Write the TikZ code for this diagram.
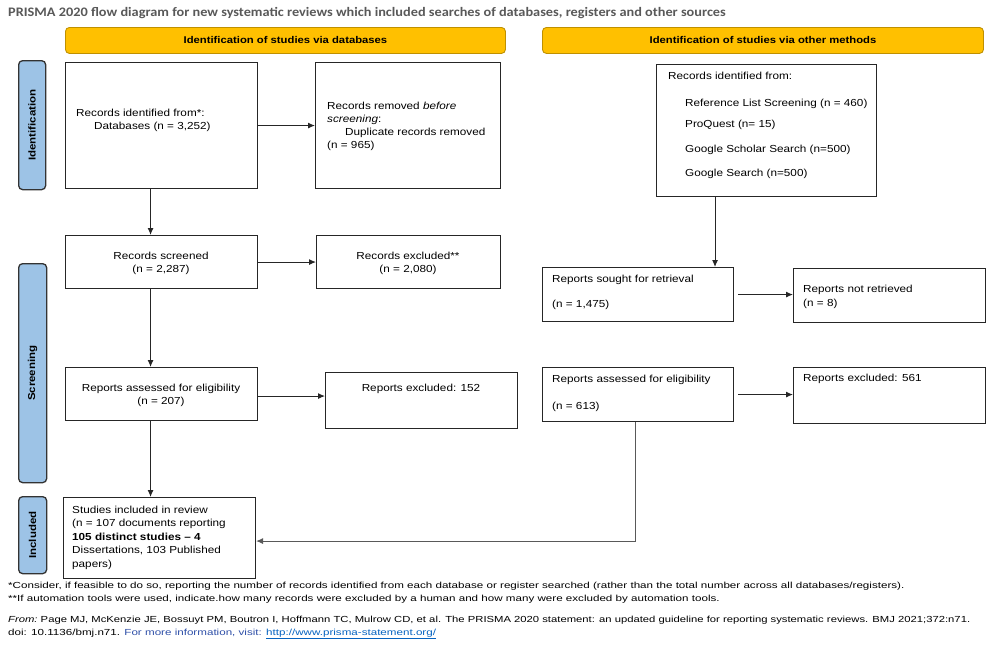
\documentclass[tikz,border=0pt]{standalone}
\usepackage{fontspec}
\setmainfont{Liberation Sans}
\usetikzlibrary{arrows.meta}
\newfontfamily\boxfont[FakeStretch=1.15]{Liberation Sans}
\newfontfamily\notefont[FakeStretch=1.32]{Liberation Sans}
\newfontfamily\notefontb[FakeStretch=1.28]{Liberation Sans}
\newfontfamily\titlefont[FakeStretch=1.1]{Carlito}
\definecolor{bannerfill}{HTML}{FFC000}
\definecolor{bannerborder}{HTML}{BF9000}
\definecolor{sidefill}{HTML}{9DC3E6}
\definecolor{titlegray}{HTML}{595959}
\definecolor{linkblue}{HTML}{0563C1}
\definecolor{infoblue}{HTML}{2E4FA8}
\begin{document}
\begin{tikzpicture}[x=1pt,y=-1pt,
  box/.style={draw=black!85, line width=1.1pt, fill=white, anchor=north west, inner sep=0pt},
  banner/.style={draw=bannerborder, fill=bannerfill, rounded corners=4pt, line width=0.9pt, anchor=north west, inner sep=0pt,
     font=\boxfont\bfseries\fontsize{9.8}{12}\selectfont},
  side/.style={draw=black!80, fill=sidefill, rounded corners=4pt, line width=1.3pt, anchor=north west, inner sep=0pt},
  sidetext/.style={rotate=90, inner sep=0pt, font=\boxfont\bfseries\fontsize{10}{12}\selectfont},
  txt/.style={anchor=base west, inner sep=0pt, font=\boxfont\fontsize{10.2}{12}\selectfont},
  ctxt/.style={anchor=base, inner sep=0pt, font=\boxfont\fontsize{10.2}{12}\selectfont},
  note/.style={anchor=base west, inner sep=0pt, font=\notefont\fontsize{8.8}{10}\selectfont},
  arr/.style={-{Latex[length=7pt,width=6pt]}, line width=1pt, draw=black!85}
]
\useasboundingbox (0,0) rectangle (1000,648);
\fill[white] (0,0) rectangle (1000,648);

% title
\node[anchor=base west, inner sep=0pt, text=titlegray, font=\titlefont\bfseries\fontsize{13}{15}\selectfont] (title) at (8,16)
  {PRISMA 2020 flow diagram for new systematic reviews which included searches of databases, registers and other sources};

% banners
\node[banner, minimum width=440pt, minimum height=26pt] (ban1) at (65,27) {Identification of studies via databases};
\node[banner, minimum width=441pt, minimum height=26pt] (ban2) at (542,27) {Identification of studies via other methods};

% side bars
\node[side, minimum width=27pt, minimum height=129pt] (sid) at (18,60) {};
\node[sidetext] (sidt) at (sid.center) {Identification};
\node[side, minimum width=28pt, minimum height=219pt] (sscr) at (18,263) {};
\node[sidetext] (sscrt) at (sscr.center) {Screening};
\node[side, minimum width=28pt, minimum height=77pt] (sinc) at (18,496) {};
\node[sidetext] (sinct) at (sinc.center) {Included};

% left column boxes
\node[box, minimum width=192pt, minimum height=126pt] (rid) at (65,62) {};
\node[txt] (rid1) at (76,116) {Records identified from*:};
\node[txt] (rid2) at (94,129) {Databases (n = 3,252)};

\node[box, minimum width=185pt, minimum height=126pt] (rem) at (315,62) {};
\node[txt] (rem1) at (327,109) {Records removed \textit{before}};
\node[txt] (rem2) at (327,122) {\textit{screening}:};
\node[txt] (rem3) at (345,135) {Duplicate records removed};
\node[txt] (rem4) at (327,148) {(n = 965)};

\node[box, minimum width=192pt, minimum height=53pt] (scr) at (65,235) {};
\node[ctxt] (scr1) at (161,259) {Records screened};
\node[ctxt] (scr2) at (161,272) {(n = 2,287)};

\node[box, minimum width=184pt, minimum height=53pt] (exc) at (316,235) {};
\node[ctxt] (exc1) at (408,259) {Records excluded**};
\node[ctxt] (exc2) at (408,272) {(n = 2,080)};

\node[box, minimum width=192pt, minimum height=53pt] (ass) at (65,367) {};
\node[ctxt] (ass1) at (161,391) {Reports assessed for eligibility};
\node[ctxt] (ass2) at (161,404) {(n = 207)};

\node[box, minimum width=192pt, minimum height=56pt] (ex1) at (325,372) {};
\node[ctxt] (ex1t) at (421,391) {Reports excluded: 152};

\node[box, minimum width=192pt, minimum height=81pt] (inc) at (63,497) {};
\node[txt] (inc1) at (72,513) {Studies included in review};
\node[txt] (inc2) at (72,526) {(n = 107 documents reporting};
\node[txt] (inc3) at (72,540) {\bfseries 105 distinct studies – 4};
\node[txt] (inc4) at (72,553) {Dissertations, 103 Published};
\node[txt] (inc5) at (72,567) {papers)};

% right column boxes
\node[box, minimum width=220pt, minimum height=132pt] (oth) at (656,64) {};
\node[txt] (oth0) at (668,79) {Records identified from:};
\node[txt] (oth1) at (685,106) {Reference List Screening (n = 460)};
\node[txt] (oth2) at (685,127) {ProQuest (n= 15)};
\node[txt] (oth3) at (685,152) {Google Scholar Search (n=500)};
\node[txt] (oth4) at (685,176) {Google Search (n=500)};

\node[box, minimum width=191pt, minimum height=54pt] (sou) at (542,267) {};
\node[txt] (sou1) at (552,282) {Reports sought for retrieval};
\node[txt] (sou2) at (552,307) {(n = 1,475)};

\node[box, minimum width=192pt, minimum height=54pt] (nre) at (793,268) {};
\node[txt] (nre1) at (803,292) {Reports not retrieved};
\node[txt] (nre2) at (803,306) {(n = 8)};

\node[box, minimum width=191pt, minimum height=54pt] (asr) at (542,367) {};
\node[txt] (asr1) at (552,382) {Reports assessed for eligibility};
\node[txt] (asr2) at (552,409) {(n = 613)};

\node[box, minimum width=192pt, minimum height=56pt] (ex2) at (793,367) {};
\node[txt] (ex2t) at (803,381) {Reports excluded: 561};

% connectors
\draw[arr] (rid.east) -- (rem.west);
\draw[arr] ([xshift=-11pt]rid.south) -- ([xshift=-11pt]scr.north);
\draw[arr] (scr.east) -- (exc.west);
\draw[arr] ([xshift=-11pt]scr.south) -- ([xshift=-11pt]ass.north);
\draw[arr] ([yshift=-2pt]ass.east) -- ([yshift=-2pt]ass.east -| ex1.west);
\draw[arr] ([xshift=-11pt]ass.south) -- ([xshift=-11pt]ass.south |- inc.north);
\draw[arr] (oth.south -| 715,0) -- (sou.north -| 715,0);
\draw[arr] ([xshift=4pt]sou.east) -- (sou.east -| nre.west);
\draw[arr] ([xshift=4pt]asr.east) -- (asr.east -| ex2.west);
\draw[arr, draw=black!65] ([xshift=-3pt]asr.south) |- ([yshift=-3pt]inc.east);

% footnotes
\node[note] (n1) at (8,588) {*Consider, if feasible to do so, reporting the number of records identified from each database or register searched (rather than the total number across all databases/registers).};
\node[note] (n2) at (8,601) {**If automation tools were used, indicate.how many records were excluded by a human and how many were excluded by automation tools.};
\node[note, font=\notefontb\fontsize{8.8}{10}\selectfont] (n3) at (8,622) {\textit{From:}\ Page MJ, McKenzie JE, Bossuyt PM, Boutron I, Hoffmann TC, Mulrow CD, et al. The PRISMA 2020 statement: an updated guideline for reporting systematic reviews. BMJ 2021;372:n71.};
\node[note] (n4) at (8,635) {doi: 10.1136/bmj.n71. {\color{infoblue}For more information, visit: }{\color{linkblue}\underline{http://www.prisma-statement.org/}}};
\end{tikzpicture}
\end{document}
